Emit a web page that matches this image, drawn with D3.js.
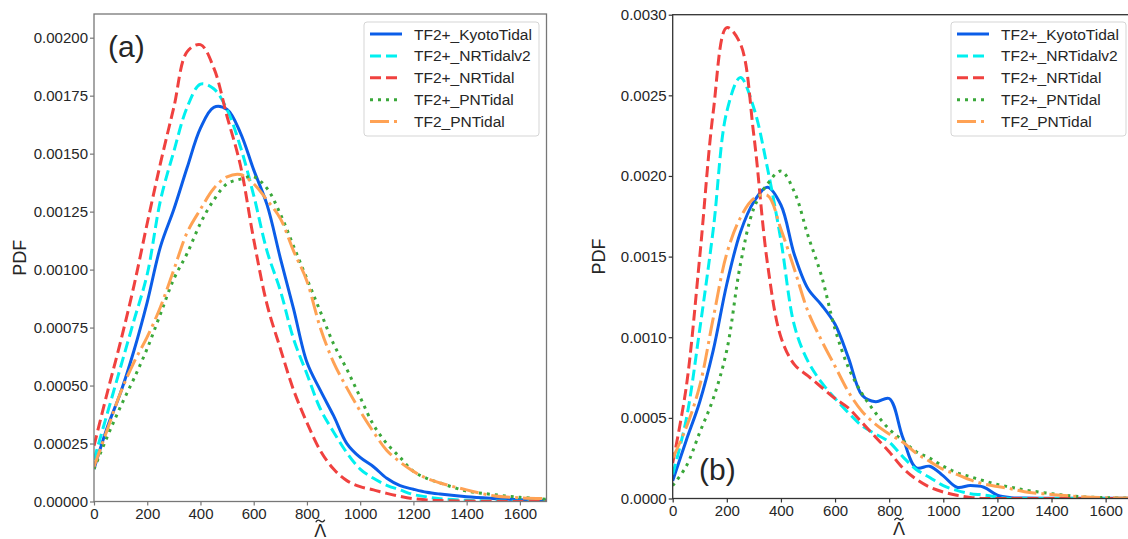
<!DOCTYPE html>
<html>
<head>
<meta charset="utf-8">
<script src="https://cdn.jsdelivr.net/npm/d3@7"></script>
<style>
html,body{margin:0;padding:0;background:#fff;}
svg{display:block;font-family:"Liberation Sans",Arial,"DejaVu Sans",sans-serif;}
</style>
</head>
<body>
<svg id="chart" width="1128" height="539"></svg>
<script>
// ---- data ----
const lambdaGrid = [0,50,100,150,200,250,300,350,400,450,500,550,600,650,700,750,800,850,900,950,1000,1050,1100,1150,1200,1250,1300,1400,1500,1600,1700];
const seriesNames = ["TF2+_KyotoTidal","TF2+_NRTidalv2","TF2+_NRTidal","TF2+_PNTidal","TF2_PNTidal"];
const xTickValues = [0,200,400,600,800,1000,1200,1400,1600];
const yTicksA = [0,0.00025,0.0005,0.00075,0.001,0.00125,0.0015,0.00175,0.002];
const yTicksB = [0,0.0005,0.001,0.0015,0.002,0.0025,0.003];

// panel (a)
const kyotoA  = [0.00014,0.00032,0.00047,0.00065,0.00086,0.0011,0.00126,0.00144,0.00161,0.0017,0.00169,0.00159,0.00143,0.00128,0.00105,0.00083,0.0006,0.00048,0.00037,0.00025,0.00019,0.00015,0.0001,0.000068,0.000053,0.00004,0.000032,0.00002,0.000013,0.000008,0.000005];
const nrv2A   = [0.00018,0.00038,0.00058,0.00078,0.00098,0.0013,0.00151,0.0017,0.0018,0.00178,0.00169,0.00153,0.00132,0.00108,0.00091,0.0007,0.00055,0.0004,0.0003,0.00021,0.00014,0.0001,0.00007,0.00005,0.00003,0.00002,0.000012,0.000005,0.000002,0.000001,0.0000005];
const nrA     = [0.00024,0.00047,0.00069,0.00093,0.0012,0.00146,0.0017,0.00194,0.00197,0.00187,0.00166,0.00145,0.00113,0.00085,0.00066,0.00048,0.00034,0.00022,0.00014,0.00009,0.000064,0.00005,0.000035,0.000022,0.000012,0.000007,0.000004,0.000002,0.000001,0,0];
const pnPlusA = [0.00014,0.00028,0.00041,0.00053,0.00066,0.00081,0.00096,0.00107,0.0012,0.0013,0.00137,0.00139,0.0014,0.00135,0.00124,0.0011,0.00096,0.00082,0.00068,0.00057,0.00045,0.00033,0.00025,0.00019,0.00013,0.0001,0.00008,0.000045,0.00003,0.000018,0.00001];
const pnA     = [0.00015,0.00031,0.00047,0.0006,0.00071,0.00084,0.001,0.00116,0.00126,0.00135,0.0014,0.00141,0.00137,0.0013,0.00122,0.00108,0.00095,0.00075,0.0006,0.00049,0.00039,0.0003,0.00022,0.00017,0.00013,0.0001,0.00008,0.00005,0.000025,0.000016,0.000012];

// panel (b)
const kyotoB  = [0.00011,0.00036,0.0006,0.00092,0.00133,0.00165,0.00184,0.00193,0.00182,0.00151,0.0013,0.0012,0.00108,0.00087,0.00064,0.0006,0.00062,0.00038,0.00019,0.0002,0.00014,0.00007,0.00008,0.00007,0.00002,0.000005,0.000003,0.000002,0.000002,0.000002,0.000002];
const nrv2B   = [0.00015,0.00049,0.00105,0.00167,0.0024,0.00261,0.00242,0.00205,0.0016,0.00107,0.00085,0.00072,0.00062,0.00053,0.00045,0.0004,0.00035,0.00026,0.00018,0.00013,0.00008,0.00005,0.00003,0.000022,0.000008,0,0,0,0,0,0];
const nrB     = [0.00022,0.00069,0.0015,0.0024,0.00292,0.00282,0.00225,0.00146,0.001,0.00083,0.00076,0.00069,0.00062,0.00056,0.00047,0.00038,0.00029,0.00019,0.00012,0.00007,0.00004,0.00002,0.000007,0,0,0,0,0,0,0,0];
const pnPlusB = [0.00008,0.0002,0.00041,0.00062,0.00092,0.00145,0.0018,0.00195,0.00203,0.0019,0.00163,0.00138,0.00105,0.00081,0.00065,0.00053,0.00043,0.00036,0.00029,0.00025,0.0002,0.00016,0.000135,0.00011,0.000087,0.00007,0.000053,0.00003,0.000012,0.000005,0.000003];
const pnB     = [0.00025,0.00044,0.0007,0.00112,0.00152,0.00174,0.00186,0.00188,0.00167,0.00142,0.00116,0.00098,0.00082,0.00066,0.00054,0.00046,0.0004,0.00035,0.00028,0.00023,0.00018,0.00015,0.000115,0.00009,0.000075,0.00006,0.000042,0.000025,0.000012,0.000005,0.000003];

// ---- styles ----
const styles = [
  {color:"#0b5de8", dash:null},
  {color:"#00f0f0", dash:"11,5"},
  {color:"#f0413f", dash:"11,5"},
  {color:"#3aa83a", dash:"3,5"},
  {color:"#ffa254", dash:"19,5,3,5"}
];

const svg = d3.select("#chart");

function drawPanel(cfg){
  const x = d3.scaleLinear().domain([0,1700]).range([cfg.left, cfg.right]);
  const y = d3.scaleLinear().domain([0, cfg.ymax]).range([cfg.bottom, cfg.top]);
  const g = svg.append("g");
  const clipId = "clip" + cfg.id;
  svg.append("defs").append("clipPath").attr("id", clipId)
    .append("rect").attr("x", cfg.left).attr("y", cfg.top)
    .attr("width", cfg.right - cfg.left).attr("height", cfg.bottom - cfg.top);

  const line = d3.line().x((d,i)=>x(lambdaGrid[i])).y(d=>y(d)).curve(d3.curveCatmullRom.alpha(0.5));
  const lines = g.append("g").attr("clip-path", `url(#${clipId})`);
  cfg.series.forEach((vals, k) => {
    lines.append("path").datum(vals)
      .attr("d", line)
      .attr("fill","none")
      .attr("stroke", styles[k].color)
      .attr("stroke-width", 3)
      .attr("stroke-dasharray", styles[k].dash)
      .attr("stroke-linejoin","round");
  });

  // frame
  g.append("rect").attr("x", cfg.left).attr("y", cfg.top)
    .attr("width", cfg.right - cfg.left).attr("height", cfg.bottom - cfg.top)
    .attr("fill","none").attr("stroke", cfg.frame).attr("stroke-width", 1.3);

  // axes
  const xAxis = d3.axisBottom(x).tickValues(xTickValues).tickSize(4).tickPadding(3).tickFormat(d3.format("d"));
  const gx = g.append("g").attr("transform", `translate(0,${cfg.bottom})`).call(xAxis);
  const yAxis = d3.axisLeft(y).tickValues(cfg.yTicks).tickSize(4).tickPadding(2).tickFormat(d3.format(cfg.yfmt));
  const gy = g.append("g").attr("transform", `translate(${cfg.left},0)`).call(yAxis);
  [gx, gy].forEach(a => {
    a.select(".domain").remove();
    a.selectAll(".tick line").attr("stroke", cfg.frame).attr("stroke-width", 1.2);
    a.selectAll(".tick text").attr("fill","#262626").style("font-size","15px")
      .style("font-family",'"Liberation Sans",Arial,sans-serif');
  });

  // axis labels
  g.append("text").attr("transform", `translate(${cfg.left - 68},${(cfg.top + cfg.bottom)/2}) rotate(-90)`)
    .attr("text-anchor","middle").attr("fill","#262626").style("font-size","18px").text("PDF");
  const cx = (cfg.left + cfg.left + 452.5)/2;
  const base = cfg.bottom + cfg.xlabOff;
  g.append("text").attr("x", cx).attr("y", base)
    .attr("text-anchor","middle").attr("fill","#262626").style("font-size","18px").text("\u039B");
  // tilde accent drawn as a small stroke above the Lambda
  const ty = base - 15.5;
  g.append("path")
    .attr("d", `M${cx-4.5},${ty+1.3} C${cx-3},${ty-1.8} ${cx-1.2},${ty-1.2} ${cx},${ty} S${cx+3},${ty+1.8} ${cx+4.5},${ty-1.3}`)
    .attr("fill","none").attr("stroke","#262626").attr("stroke-width",1.3);

  // panel tag
  g.append("text").attr("x", cfg.tagX).attr("y", cfg.tagY).attr("fill","#262626")
    .style("font-size","30px").text(cfg.tag);

  // legend
  const lg = g.append("g").attr("transform", `translate(${cfg.legX},${cfg.legY})`);
  lg.append("rect").attr("x",0).attr("y",0).attr("width",175).attr("height",114)
    .attr("rx",3).attr("fill","#fff").attr("fill-opacity",0.85).attr("stroke","#d5d5d5").attr("stroke-width",1);
  seriesNames.forEach((name,k) => {
    const yy = 12 + k*21.9;
    lg.append("line").attr("x1",6).attr("x2",38).attr("y1",yy).attr("y2",yy)
      .attr("stroke", styles[k].color).attr("stroke-width",3).attr("stroke-dasharray", styles[k].dash);
    lg.append("text").attr("x",50).attr("y",yy+5.5).attr("fill","#262626").style("font-size","15.5px").text(name);
  });
}

drawPanel({id:"a", left:94, right:546.5, top:14, bottom:501.5, ymax:0.0021022, yTicks:yTicksA, yfmt:".5f",
  series:[kyotoA,nrv2A,nrA,pnPlusA,pnA], frame:"#777", tag:"(a)", tagX:108, tagY:57, legX:364, legY:22, xlabOff:35});
drawPanel({id:"b", left:672.7, right:1132.7, top:14.7, bottom:498.5, ymax:0.003, yTicks:yTicksB, yfmt:".4f",
  series:[kyotoB,nrv2B,nrB,pnPlusB,pnB], frame:"#333", tag:"(b)", tagX:699, tagY:480, legX:951, legY:22, xlabOff:36});
</script>
</body>
</html>
